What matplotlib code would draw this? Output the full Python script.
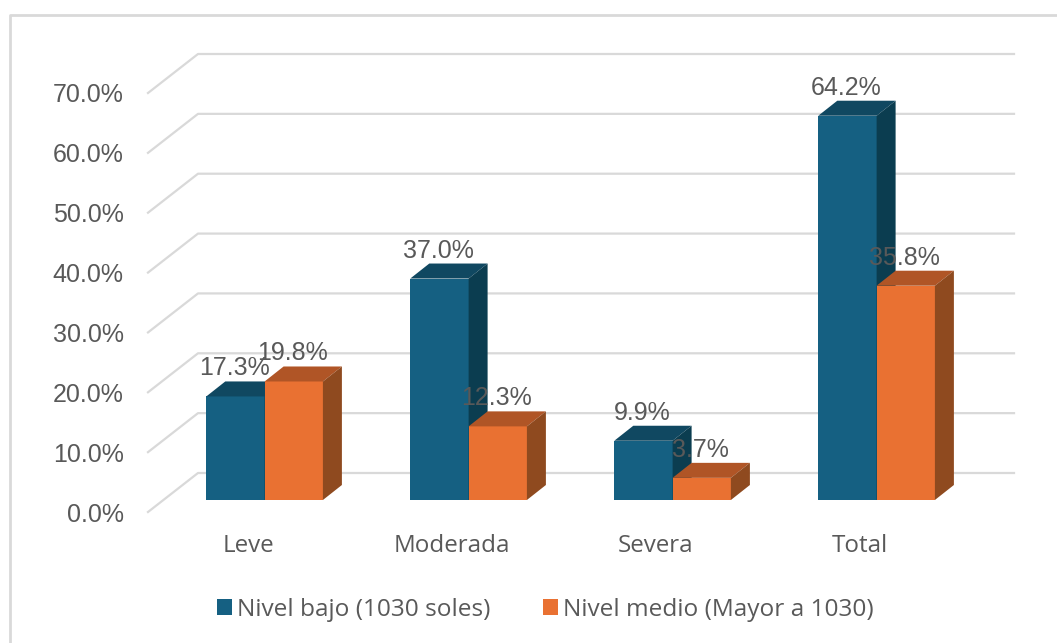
import matplotlib
matplotlib.use('Agg')
import matplotlib.pyplot as plt
from matplotlib.lines import Line2D
from matplotlib.patches import Patch
from matplotlib.transforms import ScaledTranslation

categories = ['Leve', 'Moderada', 'Severa', 'Total']
nivel_bajo = [17.3, 37.0, 9.9, 64.2]
nivel_medio = [19.8, 12.3, 3.7, 35.8]
y_ticks = [0, 10, 20, 30, 40, 50, 60, 70]
series_names = ['Nivel bajo (1030 soles)', 'Nivel medio (Mayor a 1030)']

W, H = 1057, 643
plt.rcParams['font.family'] = ['Open Sans', 'DejaVu Sans']
NUM_FONT = ['Liberation Sans', 'DejaVu Sans']
TEXT = '#595959'
GRID = '#D9D9D9'

fig = plt.figure(figsize=(W / 100, H / 100), dpi=100, facecolor='white')
# front plane of the fake 3D box, in pixels from the top left
ax = fig.add_axes([148 / W, (H - 512) / H, (964 - 148) / W, (512 - 93) / H])
ax.set_xlim(-0.5, 3.5)
ax.set_ylim(0, 70)
ax.patch.set_alpha(0)
for s in ax.spines.values():
    s.set_visible(False)

# pixel sizes converted into data units
ux = 4 / (964 - 148)
uy = 70 / (512 - 93)
wall_dx, wall_dy = 50 * ux, 39 * uy
lift_dx, lift_dy = 14.6 * ux, 12 * uy
depth_dx, depth_dy = 19 * ux, 15 * uy
bar_w = 58.3 * ux

# gridlines on the side wall and back wall
for t in y_ticks:
    ax.plot([-0.5, -0.5 + wall_dx, 3.5 + wall_dx], [t, t + wall_dy, t + wall_dy],
            color=GRID, lw=1.6, clip_on=False, zorder=1)


def draw_bar(x, v, front, top, side):
    x0 = x + lift_dx
    y0 = lift_dy
    ax.bar(x0, v, bar_w, bottom=y0, align='edge', color=front, lw=0, clip_on=False, zorder=3)
    x1 = x0 + bar_w
    ax.fill([x0, x0 + depth_dx, x1 + depth_dx, x1],
            [y0 + v, y0 + v + depth_dy, y0 + v + depth_dy, y0 + v],
            color=top, lw=0, clip_on=False, zorder=3)
    ax.fill([x1, x1 + depth_dx, x1 + depth_dx, x1],
            [y0, y0 + depth_dy, y0 + v + depth_dy, y0 + v],
            color=side, lw=0, clip_on=False, zorder=3)
    ax.text(x0 + bar_w / 2 - 1 * ux, y0 + v + 28 * uy, f'{v:.1f}%', ha='center', va='center',
            fontsize=18, family=NUM_FONT, color=TEXT, zorder=5)


for i in range(len(categories)):
    draw_bar(i - bar_w, nivel_bajo[i], '#156082', '#104861', '#0B3D50')
for i in range(len(categories)):
    draw_bar(i, nivel_medio[i], '#E97132', '#B05526', '#8F4A1F')

ax.set_xticks(range(len(categories)))
ax.set_xticklabels(categories)
ax.set_yticks(y_ticks)
ax.set_yticklabels([f'{t:.1f}%' for t in y_ticks], family=NUM_FONT)
ax.tick_params(axis='x', length=0, pad=16, labelsize=17.4, labelcolor=TEXT)
ax.tick_params(axis='y', length=0, pad=17.5, labelsize=18, labelcolor=TEXT)
# category labels sit a little left of the tick centre
nudge = ScaledTranslation(-2 / 100, 0, fig.dpi_scale_trans)
for lab in ax.get_xticklabels():
    lab.set_transform(lab.get_transform() + nudge)

handles = [Patch(facecolor='#156082'), Patch(facecolor='#E97132')]
fig.legend(handles, series_names, ncols=2, loc='center', bbox_to_anchor=(545 / W, 1 - 610 / H),
           frameon=False, fontsize=17.6, labelcolor=TEXT, handlelength=0.62, handleheight=0.62,
           handletextpad=0.2, columnspacing=2.15)

# chart area border, only the top and left edges are inside the frame
fig.add_artist(Line2D([9.5 / W, 9.5 / W, 1], [0, 1 - 14.5 / H, 1 - 14.5 / H],
                      transform=fig.transFigure, color=GRID, lw=2))

fig.savefig('out.png', dpi=100)
